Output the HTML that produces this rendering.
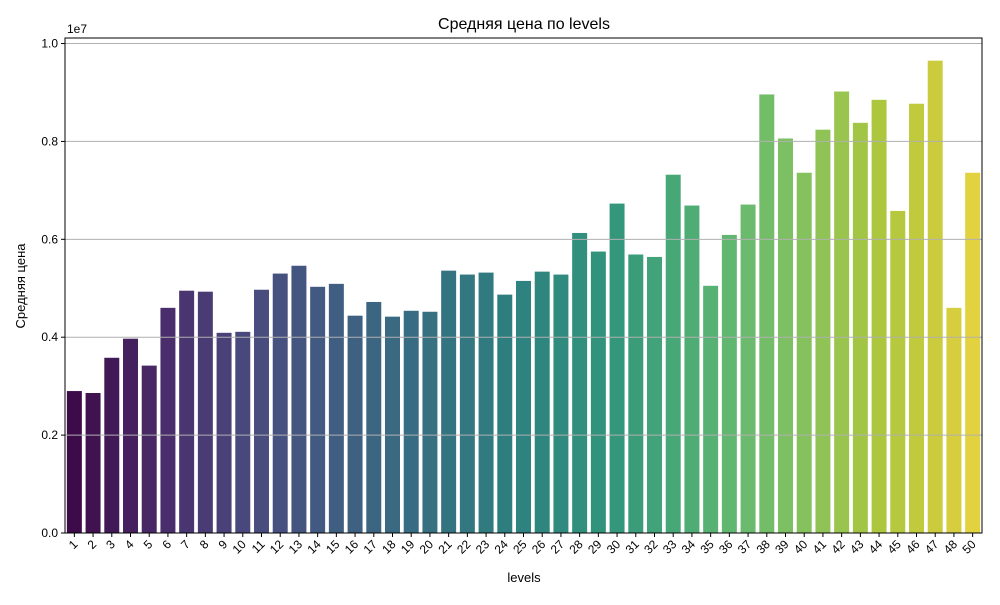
<!DOCTYPE html>
<html><head><meta charset="utf-8"><style>
body{margin:0;background:#fff;font-family:"Liberation Sans","DejaVu Sans",sans-serif}
svg text{font-family:"Liberation Sans","DejaVu Sans",sans-serif}
</style></head><body>
<svg id="chart" width="1000" height="600" viewBox="0 0 1000 600" xmlns="http://www.w3.org/2000/svg">
<rect width="1000" height="600" fill="#fff"/>
<text x="524" y="29" text-anchor="middle" font-size="16">Средняя цена по levels</text>
<g id="bars"></g><g id="grid"></g><g id="axes"></g>
<text x="524" y="582" text-anchor="middle" font-size="13">levels</text>
<text transform="translate(25,286) rotate(-90)" text-anchor="middle" font-size="13">Средняя цена</text>
<text x="67" y="33" font-size="12">1e7</text>
</svg>
<script>
const categories=[1,2,3,4,5,6,7,8,9,10,11,12,13,14,15,16,17,18,19,20,21,22,23,24,25,26,27,28,29,30,31,32,33,34,35,36,37,38,39,40,41,42,43,44,45,46,47,48,50];
const values=[2.90,2.86,3.58,3.97,3.42,4.60,4.95,4.93,4.09,4.11,4.97,5.30,5.46,5.03,5.09,4.44,4.72,4.42,4.54,4.52,5.36,5.28,5.32,4.87,5.15,5.34,5.28,6.13,5.75,6.73,5.69,5.64,7.32,6.69,5.05,6.09,6.71,8.96,8.06,7.36,8.24,9.02,8.38,8.85,6.58,8.77,9.65,4.60,7.36].map(v=>v*1e6);
const yTicks=[0,0.2e7,0.4e7,0.6e7,0.8e7,1.0e7];
const yTickLabels=["0.0","0.2","0.4","0.6","0.8","1.0"];
const L=65,R=982,T=38,B=533,YMAX=1.0113e7;
const NS="http://www.w3.org/2000/svg";
const y=v=>B-(v/YMAX)*(B-T);
const step=(R-L)/categories.length;
const x=i=>L+step*(i+0.5);
const vir=[[68,1,84],[72,35,116],[64,67,135],[52,94,141],[41,120,142],[32,144,140],[34,167,132],[68,190,112],[121,209,81],[189,222,38],[253,231,37]];
function desat(rgb,p){
 let [r,g,b]=rgb.map(c=>c/255);const mx=Math.max(r,g,b),mn=Math.min(r,g,b),l=(mx+mn)/2;
 if(mx===mn)return rgb;const d=mx-mn;let s=l>0.5?d/(2-mx-mn):d/(mx+mn);let h;
 if(mx===r)h=((g-b)/d+(g<b?6:0))/6;else if(mx===g)h=((b-r)/d+2)/6;else h=((r-g)/d+4)/6;
 s*=p;const q=l<0.5?l*(1+s):l+s-l*s,pp=2*l-q;
 const f=t=>{if(t<0)t+=1;if(t>1)t-=1;if(t<1/6)return pp+(q-pp)*6*t;if(t<1/2)return q;if(t<2/3)return pp+(q-pp)*(2/3-t)*6;return pp;};
 return [f(h+1/3),f(h),f(h-1/3)].map(c=>Math.round(c*255));
}
function col(t){const p=t*(vir.length-1),i=Math.min(Math.floor(p),vir.length-2),f=p-i;return 'rgb('+desat(vir[i].map((c,k)=>c+(vir[i+1][k]-c)*f),0.75).join(',')+')';}
function mk(tag,attrs,parent){const e=document.createElementNS(NS,tag);for(const k in attrs)e.setAttribute(k,attrs[k]);parent.appendChild(e);return e;}
const grid=document.getElementById('grid'),bars=document.getElementById('bars'),axes=document.getElementById('axes');
yTicks.forEach((t,i)=>{
 const g=mk('line',{x1:L,x2:R,y1:y(t),y2:y(t),stroke:'#b0b0b0','stroke-width':1},grid);
 
 
 mk('line',{x1:L-4,x2:L,y1:y(t),y2:y(t),stroke:'#000'},axes);
 const tx=mk('text',{x:L-7,y:y(t)+4,'text-anchor':'end','font-size':12},axes);
 tx.textContent=yTickLabels[i];
 
 
});
categories.forEach((c,i)=>{
 const w=step*0.8;
 const r=mk('rect',{x:x(i)-w/2,y:y(values[i]),width:w,height:B-y(values[i]),fill:col(i/(categories.length-1))},bars);
 
 
 mk('line',{x1:x(i),x2:x(i),y1:B,y2:B+4,stroke:'#000'},axes);
 const tx=mk('text',{'text-anchor':'end','font-size':12,transform:`translate(${x(i)+4},${B+12}) rotate(-45)`},axes);
 tx.textContent=c;
 
 
});
const fr=mk('rect',{x:L,y:T,width:R-L,height:B-T,fill:'none',stroke:'#000','stroke-width':1},axes);


</script>
</body></html>
